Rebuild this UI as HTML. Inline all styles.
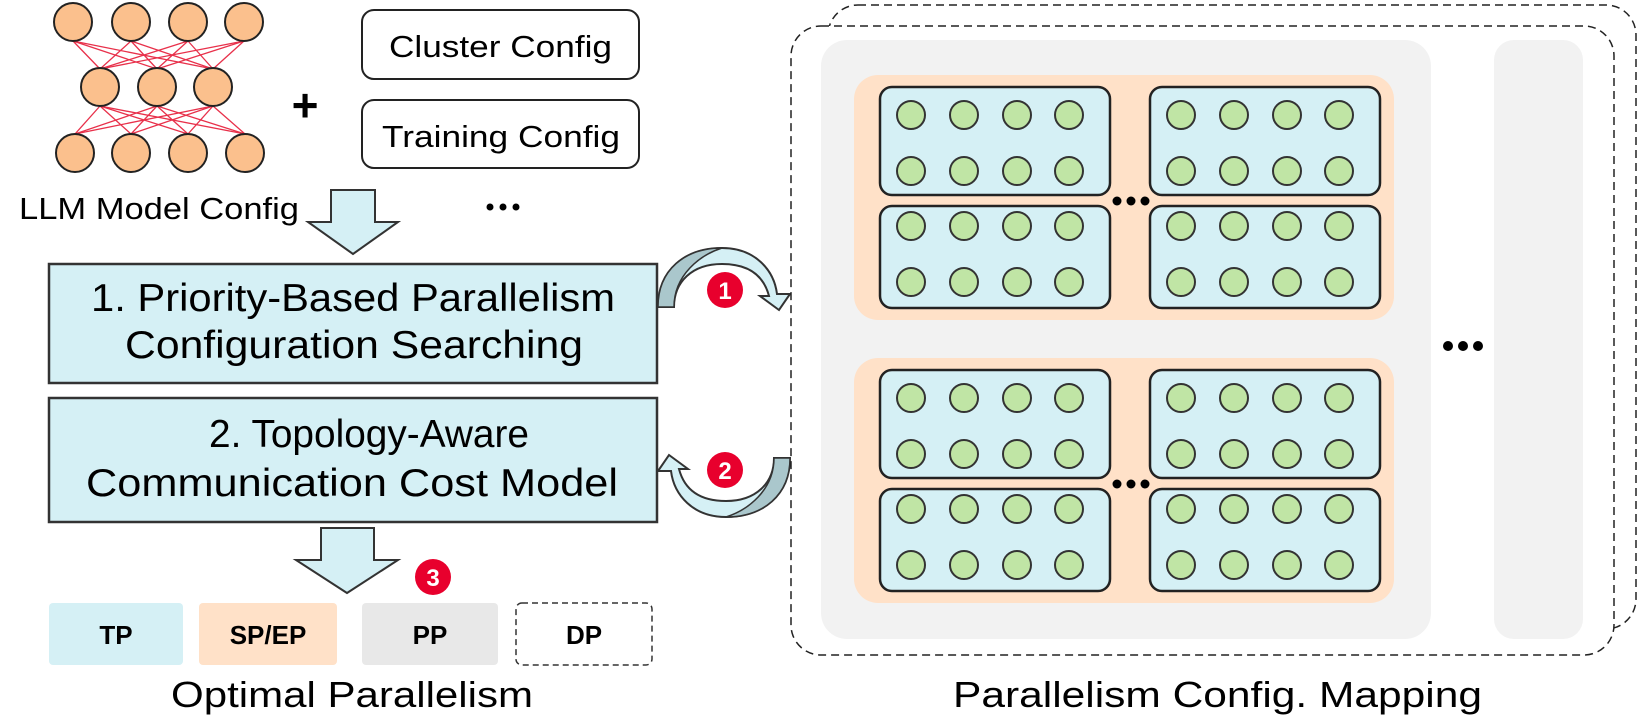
<!DOCTYPE html>
<html><head><meta charset="utf-8"><style>html,body{margin:0;padding:0;background:#fff}svg{display:block}text{font-family:"Liberation Sans",sans-serif}</style></head><body>
<svg width="1644" height="721" viewBox="0 0 1644 721" xmlns="http://www.w3.org/2000/svg">
<defs>
<g id="gc"><circle r="14" fill="#c0e5a5" stroke="#333" stroke-width="2"/></g>
<g id="bx">
<rect x="0" y="0" width="230" height="108" rx="12" fill="#d5f0f5" stroke="#222" stroke-width="2.5"/>
<use href="#gc" x="31" y="28"/><use href="#gc" x="84" y="28"/><use href="#gc" x="137" y="28"/><use href="#gc" x="189" y="28"/>
<use href="#gc" x="31" y="84"/><use href="#gc" x="84" y="84"/><use href="#gc" x="137" y="84"/><use href="#gc" x="189" y="84"/>
</g>
<g id="bx2">
<rect x="0" y="0" width="230" height="102" rx="12" fill="#d5f0f5" stroke="#222" stroke-width="2.5"/>
<use href="#gc" x="31" y="20"/><use href="#gc" x="84" y="20"/><use href="#gc" x="137" y="20"/><use href="#gc" x="189" y="20"/>
<use href="#gc" x="31" y="76"/><use href="#gc" x="84" y="76"/><use href="#gc" x="137" y="76"/><use href="#gc" x="189" y="76"/>
</g>
<g id="grp">
<rect x="0" y="0" width="540" height="245" rx="24" fill="#ffe1c8"/>
<use href="#bx" x="26" y="12"/><use href="#bx" x="296" y="12"/>
<use href="#bx2" x="26" y="131"/><use href="#bx2" x="296" y="131"/>
<circle cx="263" cy="126" r="4.5" fill="#000"/><circle cx="277" cy="126" r="4.5" fill="#000"/><circle cx="291" cy="126" r="4.5" fill="#000"/>
</g>
</defs>

<g stroke="#e8304a" stroke-width="1.3">
<line x1="73" y1="41" x2="100" y2="69"/><line x1="73" y1="41" x2="157" y2="69"/><line x1="73" y1="41" x2="213" y2="69"/>
<line x1="131" y1="41" x2="100" y2="69"/><line x1="131" y1="41" x2="157" y2="69"/><line x1="131" y1="41" x2="213" y2="69"/>
<line x1="188" y1="41" x2="100" y2="69"/><line x1="188" y1="41" x2="157" y2="69"/><line x1="188" y1="41" x2="213" y2="69"/>
<line x1="244" y1="41" x2="100" y2="69"/><line x1="244" y1="41" x2="157" y2="69"/><line x1="244" y1="41" x2="213" y2="69"/>
<line x1="100" y1="106" x2="75" y2="134"/><line x1="100" y1="106" x2="131" y2="134"/><line x1="100" y1="106" x2="188" y2="134"/><line x1="100" y1="106" x2="245" y2="134"/>
<line x1="157" y1="106" x2="75" y2="134"/><line x1="157" y1="106" x2="131" y2="134"/><line x1="157" y1="106" x2="188" y2="134"/><line x1="157" y1="106" x2="245" y2="134"/>
<line x1="213" y1="106" x2="75" y2="134"/><line x1="213" y1="106" x2="131" y2="134"/><line x1="213" y1="106" x2="188" y2="134"/><line x1="213" y1="106" x2="245" y2="134"/>
</g>
<g fill="#fbc08d" stroke="#222" stroke-width="2">
<circle cx="73" cy="22" r="19"/><circle cx="131" cy="22" r="19"/><circle cx="188" cy="22" r="19"/><circle cx="244" cy="22" r="19"/>
<circle cx="100" cy="87" r="19"/><circle cx="157" cy="87" r="19"/><circle cx="213" cy="87" r="19"/>
<circle cx="75" cy="153" r="19"/><circle cx="131" cy="153" r="19"/><circle cx="188" cy="153" r="19"/><circle cx="245" cy="153" r="19"/>
</g>
<text x="305" y="121" font-size="46" font-weight="bold" text-anchor="middle">+</text>
<text x="19" y="219" font-size="31" textLength="280" lengthAdjust="spacingAndGlyphs">LLM Model Config</text>

<rect x="362" y="10" width="277" height="69" rx="12" fill="#fff" stroke="#222" stroke-width="2"/>
<text x="389" y="57" font-size="31" textLength="223" lengthAdjust="spacingAndGlyphs">Cluster Config</text>
<rect x="362" y="100" width="277" height="68" rx="12" fill="#fff" stroke="#222" stroke-width="2"/>
<text x="382" y="147" font-size="31" textLength="238" lengthAdjust="spacingAndGlyphs">Training Config</text>
<g fill="#000"><circle cx="490" cy="207" r="3.5"/><circle cx="503" cy="207" r="3.5"/><circle cx="516" cy="207" r="3.5"/></g>

<polygon points="331,190 375,190 375,222 398,222 353,254 308,222 331,222" fill="#d5f0f5" stroke="#333" stroke-width="2"/>

<rect x="49" y="264" width="608" height="119" fill="#d5f0f5" stroke="#333" stroke-width="2.5"/>
<text x="91" y="311" font-size="39" textLength="524" lengthAdjust="spacingAndGlyphs">1. Priority-Based Parallelism</text>
<text x="125" y="358" font-size="39" textLength="458" lengthAdjust="spacingAndGlyphs">Configuration Searching</text>
<rect x="49" y="398" width="608" height="124" fill="#d5f0f5" stroke="#333" stroke-width="2.5"/>
<text x="209" y="447" font-size="39" textLength="320" lengthAdjust="spacingAndGlyphs">2. Topology-Aware</text>
<text x="86" y="496" font-size="39" textLength="532" lengthAdjust="spacingAndGlyphs">Communication Cost Model</text>

<path d="M658,307 C658,270 685,248 722,248 C755,248 774,270 777,294 L790,294 L779,310 L760,296 L769,296 C764,277 750,264 722,264 C692,264 674,282 674,307 Z" fill="#d5f0f5" stroke="#333" stroke-width="2"/>
<path d="M658,307 C658,270 685,248 722,248 C700,255 674,275 674,307 Z" fill="#aac7cc" stroke="#333" stroke-width="1.5"/>
<path d="M790,458 C790,495 763,517 726,517 C693,517 674,495 671,471 L658,471 L669,455 L688,469 L679,469 C684,488 698,501 726,501 C756,501 774,483 774,458 Z" fill="#d5f0f5" stroke="#333" stroke-width="2"/>
<path d="M790,458 C790,495 763,517 726,517 C748,510 774,490 774,458 Z" fill="#aac7cc" stroke="#333" stroke-width="1.5"/>
<circle cx="725" cy="290" r="18" fill="#e8002d"/>
<text x="725" y="299" font-size="24" font-weight="bold" fill="#fff" text-anchor="middle">1</text>
<circle cx="725" cy="470" r="18" fill="#e8002d"/>
<text x="725" y="479" font-size="24" font-weight="bold" fill="#fff" text-anchor="middle">2</text>

<polygon points="321,528 374,528 374,560 398,560 347,593 296,560 321,560" fill="#d5f0f5" stroke="#333" stroke-width="2"/>
<circle cx="433" cy="577" r="18" fill="#e8002d"/>
<text x="433" y="586" font-size="24" font-weight="bold" fill="#fff" text-anchor="middle">3</text>

<rect x="49" y="603" width="134" height="62" rx="4" fill="#d5f0f5"/>
<text x="116" y="644" font-size="26" font-weight="bold" text-anchor="middle">TP</text>
<rect x="199" y="603" width="138" height="62" rx="4" fill="#ffe1c8"/>
<text x="268" y="644" font-size="26" font-weight="bold" text-anchor="middle">SP/EP</text>
<rect x="362" y="603" width="136" height="62" rx="4" fill="#e8e8e8"/>
<text x="430" y="644" font-size="26" font-weight="bold" text-anchor="middle">PP</text>
<rect x="516" y="603" width="136" height="62" rx="6" fill="#fff" stroke="#333" stroke-width="1.5" stroke-dasharray="6,4"/>
<text x="584" y="644" font-size="26" font-weight="bold" text-anchor="middle">DP</text>
<text x="171" y="707" font-size="36" textLength="362" lengthAdjust="spacingAndGlyphs">Optimal Parallelism</text>

<rect x="828" y="5" width="808" height="624" rx="30" fill="#fff" stroke="#222" stroke-width="1.5" stroke-dasharray="8,5"/>
<rect x="791" y="26" width="823" height="629" rx="30" fill="#fff" stroke="#222" stroke-width="1.5" stroke-dasharray="8,5"/>
<rect x="821" y="40" width="610" height="599" rx="26" fill="#f2f2f2"/>
<rect x="1494" y="40" width="89" height="599" rx="20" fill="#f2f2f2"/>
<use href="#grp" x="854" y="75"/>
<use href="#grp" x="854" y="358"/>
<g fill="#000"><circle cx="1448" cy="346" r="5"/><circle cx="1463" cy="346" r="5"/><circle cx="1478" cy="346" r="5"/></g>
<text x="953" y="707" font-size="36" textLength="529" lengthAdjust="spacingAndGlyphs">Parallelism Config. Mapping</text>
</svg>
</body></html>
